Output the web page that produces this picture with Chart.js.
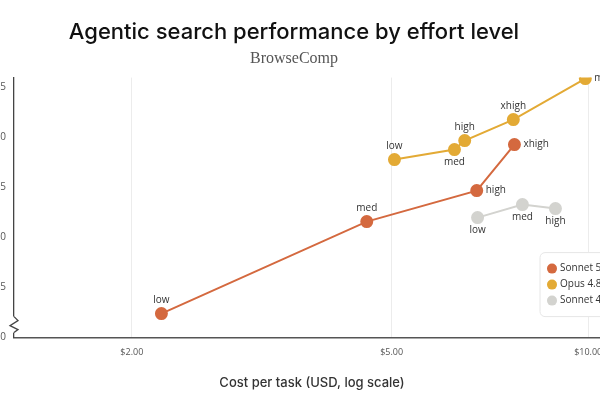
<!DOCTYPE html>
<html>
<head>
<meta charset="utf-8">
<script src="https://cdn.jsdelivr.net/npm/chart.js@4"></script>
<style>
    body { margin: 0; background: #fff; overflow: hidden; }
    #wrap { position: absolute; left: -40px; top: 0; width: 680px; height: 400px; }
</style>
</head>
<body>
<div id="wrap"><canvas id="searchChart"></canvas></div>
<script>
// cost per task (USD) and BrowseComp score for each effort level
const sonnet5Cost = [2.22, 4.58, 6.75, 7.71];
const sonnet5Score = [62.4, 71.6, 74.7, 79.3];
const sonnet5Levels = ["low", "med", "high", "xhigh"];

const opusCost = [5.05, 6.24, 6.47, 7.68, 9.9];
const opusScore = [77.8, 78.8, 79.7, 81.8, 85.9];
const opusLevels = ["low", "med", "high", "xhigh", "max"];

const sonnet4Cost = [6.77, 7.93, 8.91];
const sonnet4Score = [72.0, 73.3, 72.9];
const sonnet4Levels = ["low", "med", "high"];

const xTickValues = [2, 5, 10];
const yTickValues = [60, 65, 70, 75, 80, 85];
const seriesNames = ["Sonnet 5", "Opus 4.8", "Sonnet 4.6"];

// where each effort label sits relative to its point
const sonnet5LabelPos = ["above", "above", "right", "right"];
const opusLabelPos = ["above", "below", "above", "above", "right"];
const sonnet4LabelPos = ["below", "below", "below"];

function toPoints(xs, ys) {
    return xs.map((x, i) => ({ x: x, y: ys[i] }));
}

// effort level labels next to points
const pointLabels = {
    id: "pointLabels",
    afterDatasetsDraw(chart) {
        const ctx = chart.ctx;
        ctx.save();
        ctx.font = "10px 'Open Sans', sans-serif";
        ctx.fillStyle = "#333";
        chart.data.datasets.forEach((ds, di) => {
            const meta = chart.getDatasetMeta(di);
            meta.data.forEach((pt, i) => {
                const pos = ds.labelPos[i];
                const txt = ds.levels[i];
                if (pos === "above") {
                    ctx.textAlign = "center"; ctx.textBaseline = "bottom";
                    ctx.fillText(txt, pt.x, pt.y - 8);
                } else if (pos === "below") {
                    ctx.textAlign = "center"; ctx.textBaseline = "top";
                    ctx.fillText(txt, pt.x, pt.y + 8);
                } else {
                    ctx.textAlign = "left"; ctx.textBaseline = "middle";
                    ctx.fillText(txt, pt.x + 9, pt.y);
                }
            });
        });
        ctx.restore();
    }
};

// broken axis zigzag and boxed legend
const decorations = {
    id: "decorations",
    afterDraw(chart) {
        const ctx = chart.ctx;
        const area = chart.chartArea;
        const yb = chart.scales.y.getPixelForValue(61.3);
        const x0 = area.left;
        ctx.save();
        ctx.fillStyle = "#fff";
        ctx.fillRect(x0 - 2, yb - 8, 4, 16);
        ctx.strokeStyle = "#444";
        ctx.lineWidth = 1.3;
        ctx.beginPath();
        ctx.moveTo(x0, yb - 8);
        ctx.lineTo(x0 + 4, yb - 4);
        ctx.lineTo(x0 - 4, yb + 1);
        ctx.lineTo(x0 + 4, yb + 5);
        ctx.lineTo(x0, yb + 8);
        ctx.stroke();

        // legend box
        const bx = area.right - 70, by = area.bottom - 85, bw = 110, bh = 64;
        ctx.fillStyle = "#fff";
        ctx.strokeStyle = "#e6e6e6";
        ctx.lineWidth = 1;
        ctx.beginPath();
        ctx.roundRect(bx, by, bw, bh, 5);
        ctx.fill();
        ctx.stroke();
        ctx.font = "10px 'Open Sans', sans-serif";
        ctx.textAlign = "left";
        ctx.textBaseline = "middle";
        chart.data.datasets.forEach((ds, i) => {
            const cy = by + 16 + i * 16;
            ctx.fillStyle = ds.backgroundColor;
            ctx.beginPath();
            ctx.arc(bx + 12, cy, 5, 0, Math.PI * 2);
            ctx.fill();
            ctx.fillStyle = "#333";
            ctx.fillText(ds.label, bx + 20, cy);
        });
        ctx.restore();
    }
};

function makeDataset(name, xs, ys, levels, labelPos, color) {
    return {
        label: name,
        data: toPoints(xs, ys),
        levels: levels,
        labelPos: labelPos,
        borderColor: color,
        backgroundColor: color,
        pointBackgroundColor: color,
        pointBorderColor: color,
        borderWidth: 2,
        pointRadius: 5.5,
        showLine: true,
        tension: 0
    };
}

const ctx = document.getElementById("searchChart").getContext("2d");
const searchChart = new Chart(ctx, {
    type: "scatter",
    data: {
        datasets: [
            makeDataset(seriesNames[0], sonnet5Cost, sonnet5Score, sonnet5Levels, sonnet5LabelPos, "#d4693f"),
            makeDataset(seriesNames[1], opusCost, opusScore, opusLevels, opusLabelPos, "#e3aa35"),
            makeDataset(seriesNames[2], sonnet4Cost, sonnet4Score, sonnet4Levels, sonnet4LabelPos, "#d3d3cf")
        ]
    },
    options: {
        responsive: true,
        maintainAspectRatio: false,
        animation: false,
        layout: { padding: { left: 18, right: 30, top: 0, bottom: 9 } },
        plugins: {
            legend: { display: false },
            tooltip: { enabled: false },
            title: {
                display: true,
                text: "Agentic search performance by effort level",
                color: "#111",
                font: { family: "Inter", size: 22, weight: "500" },
                padding: { top: 19, bottom: 4 }
            },
            subtitle: {
                display: true,
                text: "BrowseComp",
                color: "#555",
                font: { family: "'Liberation Serif', serif", size: 16 },
                padding: { bottom: 9 }
            }
        },
        scales: {
            x: {
                type: "logarithmic",
                min: 1.32,
                max: 10.8,
                afterBuildTicks: axis => { axis.ticks = xTickValues.map(v => ({ value: v })); },
                ticks: {
                    color: "#555",
                    font: { family: "'Open Sans', sans-serif", size: 9 },
                    padding: 9,
                    maxRotation: 0,
                    callback: v => "$" + Number(v).toFixed(2)
                },
                grid: { color: "#ececec", drawTicks: false },
                border: { color: "#555", width: 1.5 },
                title: {
                    display: true,
                    text: "Cost per task (USD, log scale)",
                    color: "#333",
                    font: { family: "Inter", size: 13, weight: "500" },
                    padding: { top: 9, bottom: 0 }
                }
            },
            y: {
                min: 60,
                max: 86,
                afterBuildTicks: axis => { axis.ticks = yTickValues.map(v => ({ value: v })); },
                afterFit: axis => { axis.width = 36; },
                ticks: {
                    color: "#555",
                    font: { family: "'Open Sans', sans-serif", size: 10 },
                    padding: 8
                },
                grid: { display: false, drawTicks: false },
                border: { color: "#444", width: 1.3 }
            }
        }
    },
    plugins: [pointLabels, decorations]
});
</script>
</body>
</html>
